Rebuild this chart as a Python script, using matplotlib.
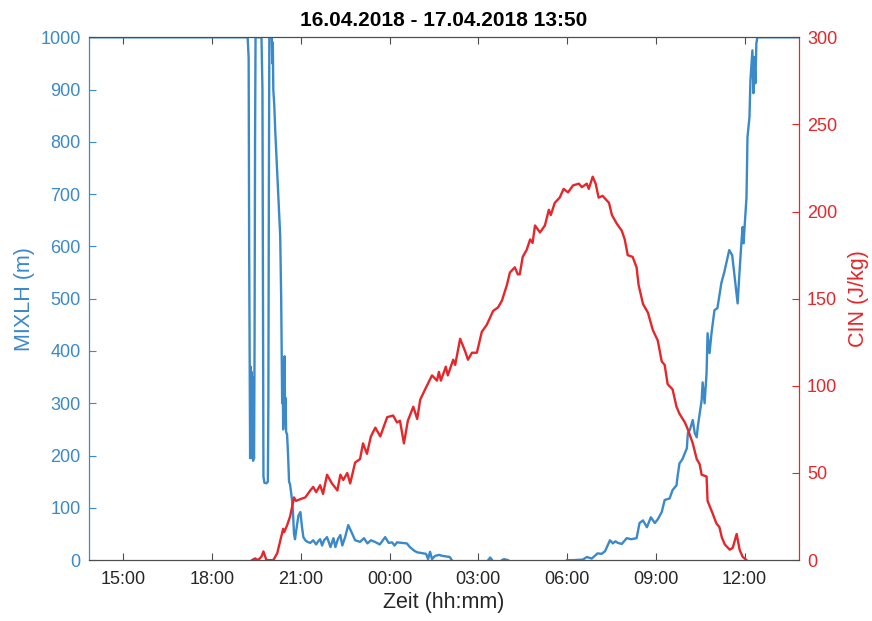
import numpy as np
import matplotlib
matplotlib.use('Agg')
import matplotlib.pyplot as plt
import matplotlib.dates as mdates
from datetime import datetime

plt.rcParams['font.family'] = ['Liberation Sans', 'DejaVu Sans']

title = '16.04.2018 - 17.04.2018 13:50'

# MIXLH (m), times hh:mm (before 13:50 -> 17.04)
mixlh_t = ['13:50', '19:12', '19:14', '19:15', '19:16', '19:17', '19:18', '19:19', '19:20',
           '19:21', '19:22', '19:23', '19:24', '19:25', '19:26', '19:27', '19:28', '19:40',
           '19:42', '19:43', '19:44', '19:46', '19:50', '19:53', '19:54', '19:55', '19:56',
           '20:01', '20:02', '20:03', '20:04', '20:06', '20:08', '20:10', '20:12', '20:14',
           '20:16', '20:18', '20:20', '20:21', '20:22', '20:23', '20:24', '20:25', '20:26',
           '20:27', '20:28', '20:29', '20:30', '20:32', '20:34', '20:36', '20:38', '20:40',
           '20:42', '20:44', '20:46', '20:48', '20:51', '20:55', '20:59', '21:02', '21:05',
           '21:09', '21:13', '21:19', '21:25', '21:31', '21:35', '21:39', '21:43', '21:47',
           '21:53', '22:00', '22:06', '22:10', '22:15', '22:20', '22:24', '22:30', '22:36',
           '22:42', '22:50', '23:00', '23:08', '23:15', '23:22', '23:30', '23:40', '23:51',
           '23:58', '00:05', '00:10', '00:15', '00:25', '00:35', '00:41', '00:50', '00:56',
           '01:08', '01:14', '01:18', '01:22', '01:26', '01:32', '01:40', '01:48', '02:02',
           '02:06', '02:08', '03:20', '03:24', '03:28', '03:30', '03:48', '03:52', '04:00',
           '04:02', '06:00', '06:12', '06:32', '06:40', '06:50', '07:02', '07:10', '07:17',
           '07:27', '07:33', '07:38', '07:43', '07:51', '08:01', '08:10', '08:21', '08:27',
           '08:34', '08:42', '08:50', '08:58', '09:04', '09:12', '09:18', '09:28', '09:34',
           '09:42', '09:44', '09:48', '09:54', '10:03', '10:05', '10:09', '10:15', '10:19',
           '10:23', '10:25', '10:33', '10:35', '10:39', '10:43', '10:45', '10:49', '10:53',
           '10:59', '11:05', '11:13', '11:19', '11:29', '11:35', '11:39', '11:46', '11:50',
           '11:54', '11:56', '11:58', '12:04', '12:06', '12:10', '12:12', '12:16', '12:18',
           '12:20', '12:22', '12:24', '12:26', '13:49']
mixlh_v = [1000, 1000, 960, 600, 380, 195, 370, 200, 360,
           195, 350, 190, 200, 195, 420, 800, 1000, 1000,
           900, 500, 160, 148, 147, 150, 300, 700, 1000,
           1000, 950, 990, 900, 870, 820, 780, 740, 700,
           660, 620, 500, 400, 300, 380, 250, 360, 280,
           390, 260, 310, 245, 240, 200, 150, 145, 130,
           115, 90, 50, 40, 60, 85, 92, 65, 44,
           38, 35, 33, 38, 30, 36, 40, 28, 38,
           44, 25, 42, 25, 40, 48, 28, 45, 67,
           55, 38, 35, 42, 32, 38, 35, 30, 44,
           33, 34, 28, 34, 33, 32, 25, 18, 15,
           13, 12, 2, 16, 2, 8, 10, 8, 6,
           0, np.nan, 0, 5, 0, np.nan, 0, 2, 0,
           np.nan, 0, 0, 1, 6, 3, 13, 12, 17,
           38, 32, 36, 33, 31, 42, 40, 42, 71,
           76, 63, 82, 71, 78, 92, 115, 118, 134,
           143, 159, 185, 193, 214, 243, 249, 268, 243,
           235, 254, 306, 340, 300, 358, 434, 396, 434,
           478, 482, 530, 551, 593, 583, 549, 491, 554,
           612, 637, 606, 694, 809, 847, 918, 975, 893,
           962, 912, 988, 1000, 1000]

# CIN (J/kg)
cin_t = ['19:21', '19:27', '19:33', '19:40', '19:44', '19:50', '20:04', '20:12', '20:18',
         '20:24', '20:26', '20:32', '20:38', '20:44', '20:46', '20:50', '20:59', '21:09',
         '21:19', '21:25', '21:31', '21:39', '21:45', '21:53', '22:03', '22:14', '22:20',
         '22:26', '22:34', '22:40', '22:50', '23:00', '23:06', '23:14', '23:22', '23:31',
         '23:41', '23:55', '00:07', '00:15', '00:21', '00:29', '00:37', '00:48', '00:56',
         '01:02', '01:12', '01:26', '01:36', '01:40', '01:44', '01:54', '01:58', '02:09',
         '02:13', '02:23', '02:33', '02:39', '02:47', '02:57', '03:07', '03:17', '03:30',
         '03:40', '03:48', '03:58', '04:04', '04:14', '04:20', '04:24', '04:30', '04:38',
         '04:45', '04:50', '04:55', '05:05', '05:15', '05:23', '05:27', '05:35', '05:45',
         '05:53', '06:02', '06:12', '06:24', '06:30', '06:40', '06:44', '06:52', '06:58',
         '07:04', '07:12', '07:25', '07:31', '07:41', '07:51', '07:57', '08:03', '08:13',
         '08:21', '08:25', '08:34', '08:44', '08:54', '09:04', '09:12', '09:18', '09:24',
         '09:34', '09:42', '09:48', '09:59', '10:05', '10:15', '10:23', '10:29', '10:33',
         '10:43', '10:45', '10:55', '11:03', '11:09', '11:14', '11:20', '11:30', '11:36',
         '11:44', '11:50', '11:56', '12:04']
cin_v = [0, 1, 0, 2, 5, 0, 0, 4, 11,
         18, 16, 20, 25, 33, 36, 34, 35, 36,
         40, 42, 39, 43, 38, 49, 44, 40, 49,
         46, 50, 44, 56, 58, 67, 61, 71, 76,
         71, 82, 83, 79, 80, 67, 80, 88, 81,
         92, 98, 106, 103, 108, 103, 111, 106, 115,
         112, 127, 120, 115, 119, 119, 131, 135, 143,
         145, 149, 158, 165, 168, 164, 164, 174, 178,
         184, 182, 192, 188, 192, 201, 198, 205, 208,
         213, 211, 215, 216, 214, 216, 213, 220, 216,
         208, 209, 205, 198, 193, 189, 184, 175, 174,
         168, 158, 147, 142, 132, 126, 114, 112, 101,
         98, 88, 84, 79, 75, 67, 58, 55, 49,
         48, 34, 27, 21, 19, 13, 9, 6, 7,
         15, 6, 2, 0]


def to_dt(labels):
    out = []
    for s in labels:
        h, m = map(int, s.split(':'))
        day = 16 if h * 60 + m >= 13 * 60 + 50 else 17
        out.append(datetime(2018, 4, day, h, m))
    return out


blue = '#3A89C9'
red = '#E5262A'
axcol = '#4D4D4D'

fig = plt.figure(figsize=(8.72, 6.21), dpi=100)
ax = fig.add_axes([0.102, 0.098, 0.814, 0.842])
ax2 = ax.twinx()

ax.plot(to_dt(mixlh_t), mixlh_v, color=blue, lw=1.7)
ax2.plot(to_dt(cin_t), cin_v, color=red, lw=1.7)

ax.set_xlim(datetime(2018, 4, 16, 13, 50), datetime(2018, 4, 17, 13, 50))
ax.set_ylim(0, 1000)
ax2.set_ylim(0, 300)
ax.set_yticks(np.arange(0, 1001, 100))
ax2.set_yticks(np.arange(0, 301, 50))

ax.xaxis.set_major_locator(mdates.HourLocator(byhour=range(0, 24, 3)))
ax.xaxis.set_major_formatter(mdates.DateFormatter('%H:%M'))

ax.tick_params(axis='x', direction='in', length=5, top=True, colors=axcol,
               labelcolor='#262626', labelsize=13, pad=8)
ax.tick_params(axis='y', direction='in', length=5, colors=blue, labelsize=13, pad=6)
ax2.tick_params(axis='y', direction='in', length=5, colors=red, labelsize=13, pad=6)

for a in (ax, ax2):
    a.spines['top'].set_color(axcol)
    a.spines['bottom'].set_color(axcol)
    a.spines['left'].set_color(blue)
    a.spines['right'].set_color(red)
    for sp in a.spines.values():
        sp.set_linewidth(0.8)

ax.set_ylabel('MIXLH (m)', color=blue, fontsize=15.5, labelpad=4)
ax2.set_ylabel('CIN (J/kg)', color=red, fontsize=15.5, labelpad=8)
ax.set_xlabel('Zeit (hh:mm)', color='#262626', fontsize=15.5, labelpad=3)
ax.set_title(title, fontsize=15, fontweight='bold', pad=8)

fig.savefig('out.png', dpi=100)
